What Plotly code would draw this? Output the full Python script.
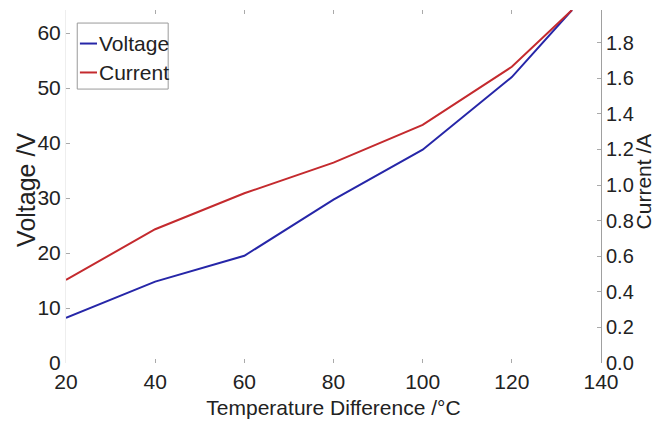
import plotly.graph_objects as go

# Measured series
temp_diff = [20, 40, 60, 80, 100, 120, 133.5]
voltage = [8.2, 14.8, 19.5, 29.7, 38.8, 52.0, 64.2]
current = [0.467, 0.752, 0.954, 1.126, 1.338, 1.665, 1.984]

x_ticks = [20, 40, 60, 80, 100, 120, 140]
v_ticks = [0, 10, 20, 30, 40, 50, 60]
i_ticks = [0.0, 0.2, 0.4, 0.6, 0.8, 1.0, 1.2, 1.4, 1.6, 1.8]

series_names = ["Voltage", "Current"]

FONT = "Liberation Sans, Arial, sans-serif"
TEXT = "#222222"
BLUE = "#2626a8"
RED = "#c42a2e"

fig = go.Figure()
fig.add_trace(go.Scatter(x=temp_diff, y=voltage, name=series_names[0], mode="lines",
                         line=dict(color=BLUE, width=2), yaxis="y", showlegend=False))
fig.add_trace(go.Scatter(x=temp_diff, y=current, name=series_names[1], mode="lines",
                         line=dict(color=RED, width=2), yaxis="y2", showlegend=False))

tick_style = dict(ticks="inside", ticklen=4, tickcolor="#aaaaaa", showgrid=False,
                  zeroline=False, automargin=False)
tick_font = dict(family=FONT, size=21, color=TEXT)

# Compact boxed key in the upper-left corner of the plot area
key_box = dict(x0=0.021, x1=0.191, y0=0.776, y1=0.963)
shapes = [dict(type="rect", xref="paper", yref="paper", **key_box,
               line=dict(color="#9a9a9a", width=1), fillcolor="white", layer="above")]
annotations = []
for i, (name, color) in enumerate(zip(series_names, [BLUE, RED])):
    yk = 0.905 - i * 0.082
    shapes.append(dict(type="line", xref="paper", yref="paper",
                       x0=0.026, x1=0.058, y0=yk, y1=yk,
                       line=dict(color=color, width=2), layer="above"))
    annotations.append(dict(text=name, xref="paper", yref="paper", x=0.058, y=yk,
                            xanchor="left", yanchor="middle", showarrow=False,
                            font=dict(family=FONT, size=21, color=TEXT)))

# Vertical axis titles
annotations.append(dict(text="Voltage /V", xref="paper", yref="paper", x=-0.075, y=0.49,
                        xanchor="center", yanchor="middle", textangle=-90, showarrow=False,
                        font=dict(family=FONT, size=25, color=TEXT)))
annotations.append(dict(text="Current /A", xref="paper", yref="paper", x=1.0795, y=0.513,
                        xanchor="center", yanchor="middle", textangle=-90, showarrow=False,
                        font=dict(family=FONT, size=21, color=TEXT)))

fig.update_layout(
    width=657, height=437,
    margin=dict(l=66, r=56, t=10, b=74),
    paper_bgcolor="white", plot_bgcolor="white",
    font=dict(family=FONT, size=21, color=TEXT),
    xaxis=dict(range=[20, 140], tickvals=x_ticks, mirror="ticks", showline=True,
               linecolor="rgba(0,0,0,0)", tickfont=tick_font,
               title=dict(text="Temperature Difference /°C", standoff=8,
                          font=dict(family=FONT, size=21)),
               **tick_style),
    yaxis=dict(range=[0, 64.2], tickvals=v_ticks, showline=True, linecolor="#eeeeee",
               tickfont=tick_font, **tick_style),
    yaxis2=dict(range=[0, 1.984], tickvals=i_ticks, tickformat=".1f", overlaying="y",
                side="right", showline=True, linecolor="#a0a0a0",
                tickfont=dict(family=FONT, size=20, color=TEXT), **tick_style),
    shapes=shapes,
    annotations=annotations,
    showlegend=False,
)

fig.write_html("out.html")
